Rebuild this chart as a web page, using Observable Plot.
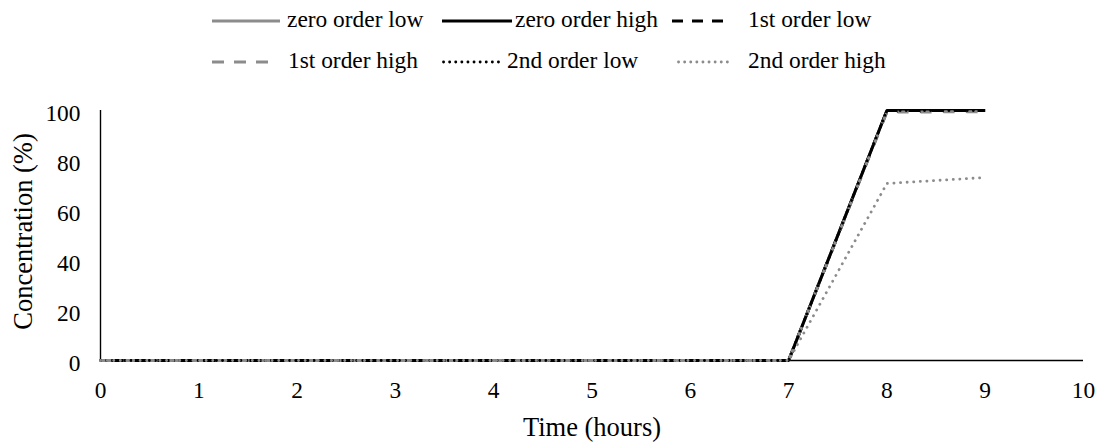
<!DOCTYPE html>
<html>
<head>
<meta charset="utf-8">
<script src="https://cdn.jsdelivr.net/npm/d3@7"></script>
<script src="https://cdn.jsdelivr.net/npm/@observablehq/plot@0.6"></script>
<style>
  body { margin: 0; background: #fff; font-family: "Liberation Serif", "Times New Roman", serif; }
  #legend { height: 80px; width: 1105px; position: relative; font-size: 23.4px; color: #000; }
  #legend .sw { position: absolute; }
  #legend .tx { position: absolute; white-space: nowrap; line-height: 1; transform: translateY(-50%); }
</style>
</head>
<body>
<div id="legend"></div>
<div id="chart"></div>
<script>
const hours = [0, 1, 2, 3, 4, 5, 6, 7, 8, 9];
const seriesNames = ["zero order low", "zero order high", "1st order low", "1st order high", "2nd order low", "2nd order high"];
const zeroOrderLow  = [0, 0, 0, 0, 0, 0, 0, 0, 100, 100];
const zeroOrderHigh = [0, 0, 0, 0, 0, 0, 0, 0, 100, 100];
const firstOrderLow  = [0, 0, 0, 0, 0, 0, 0, 0, 99.7, 99.8];
const firstOrderHigh = [0, 0, 0, 0, 0, 0, 0, 0, 99.4, 99.5];
const secondOrderLow  = [0, 0, 0, 0, 0, 0, 0, 0, 100, 100];
const secondOrderHigh = [0, 0, 0, 0, 0, 0, 0, 0, 70.8, 73.2];
const xTicks = [0, 1, 2, 3, 4, 5, 6, 7, 8, 9, 10];
const yTicks = [0, 20, 40, 60, 80, 100];
const xTitle = "Time (hours)";
const yTitle = "Concentration (%)";

const seriesValues = [zeroOrderLow, zeroOrderHigh, firstOrderLow, firstOrderHigh, secondOrderLow, secondOrderHigh];
const strokes = ["#8c8c8c", "#000000", "#000000", "#8c8c8c", "#000000", "#8c8c8c"];
const dashes = [null, null, "11,12", "11,12", "0.1,6", "0.1,6.5"];
const caps = ["butt", "butt", "butt", "butt", "round", "round"];
const widths = [3, 3, 3, 3, 2.8, 2.8];

const data = [];
seriesNames.forEach((name, i) => {
  hours.forEach((h, j) => data.push({series: name, idx: i, hour: h, value: seriesValues[i][j]}));
});

// Legend (two rows of three)
const legend = document.getElementById("legend");
const legSwX = [212, 442, 672, 212, 442, 677];
const legSwW = [68, 70, 52, 58, 60, 53];
const legTxX = [287, 515, 748, 288, 507, 748];
const legY = [21, 21, 21, 62, 62, 62];
const legDash = [null, null, "11,9", "12,10", "0.1,6", "0.1,6"];
seriesNames.forEach((name, i) => {
  const sw = document.createElementNS("http://www.w3.org/2000/svg", "svg");
  sw.setAttribute("class", "sw");
  sw.setAttribute("width", legSwW[i]);
  sw.setAttribute("height", 10);
  sw.style.left = legSwX[i] + "px";
  sw.style.top = (legY[i] - 5) + "px";
  const off = caps[i] === "round" ? 1.5 : 0;
  sw.innerHTML = `<line x1="${off}" y1="5" x2="${legSwW[i]}" y2="5" stroke="${strokes[i]}" stroke-width="${widths[i]}" stroke-linecap="${caps[i]}" ${legDash[i] ? `stroke-dasharray="${legDash[i]}"` : ""}/>`;
  legend.appendChild(sw);
  const tx = document.createElement("div");
  tx.className = "tx";
  tx.textContent = name;
  tx.style.left = legTxX[i] + "px";
  tx.style.top = (legY[i] - 1) + "px";
  legend.appendChild(tx);
});

const marks = [
  Plot.axisX({ticks: xTicks, tickSize: 0, tickPadding: 21, fontSize: 23.4, label: null, tickFormat: d => String(d)}),
  Plot.axisY({ticks: yTicks, tickSize: 0, tickPadding: 20, fontSize: 23.4, label: null, dy: 3}),
  Plot.ruleY([0], {stroke: "#000", strokeWidth: 1.4}),
  Plot.ruleX([0], {y1: 0, y2: 100, stroke: "#000", strokeWidth: 1.4}),
  Plot.text([xTitle], {frameAnchor: "bottom", dy: 67, fontSize: 26.5, fill: "#000", lineAnchor: "middle"}),
  Plot.text([yTitle], {frameAnchor: "left", dx: -77, dy: -4, rotate: -90, fontSize: 26.5, fill: "#000", textAnchor: "middle", lineAnchor: "middle"})
];
seriesNames.forEach((name, i) => {
  marks.push(Plot.line(data.filter(d => d.idx === i), {
    x: "hour", y: "value",
    stroke: strokes[i], strokeWidth: widths[i],
    strokeDasharray: dashes[i] || undefined,
    strokeLinecap: caps[i],
    strokeLinejoin: "miter"
  }));
});

const chart = Plot.plot({
  width: 1105,
  height: 363,
  marginLeft: 100,
  marginRight: 22,
  marginTop: 30,
  marginBottom: 83,
  style: {fontFamily: "Liberation Serif, Times New Roman, serif", fontSize: "23.4px", color: "#000", background: "#fff", overflow: "visible"},
  x: {domain: [0, 10]},
  y: {domain: [0, 100]},
  marks
});
document.getElementById("chart").appendChild(chart);
</script>
</body>
</html>
